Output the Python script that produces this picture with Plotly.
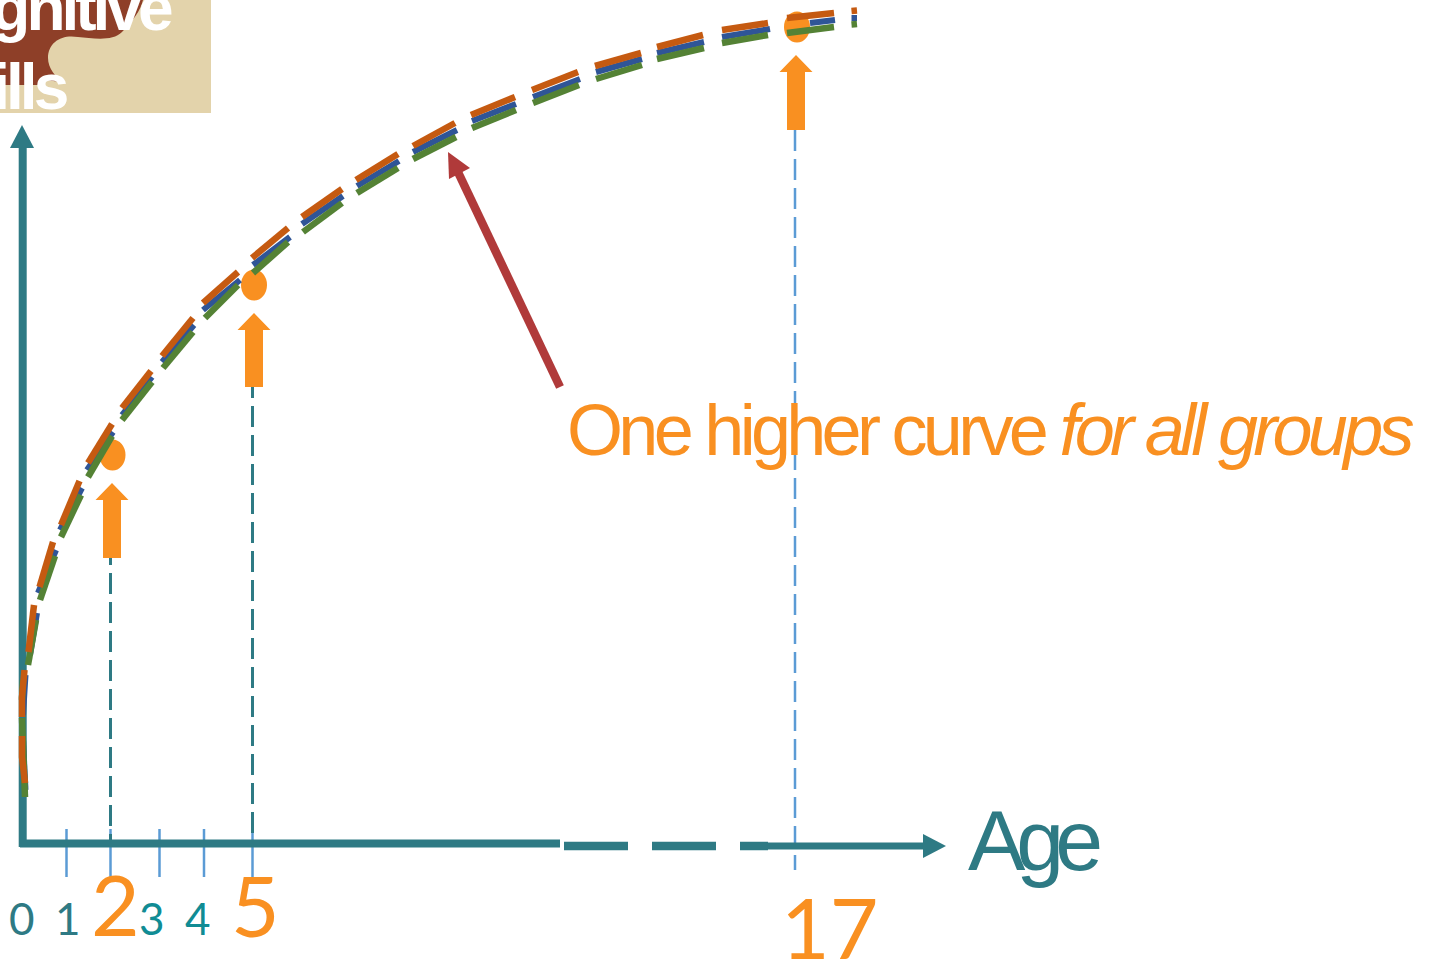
import plotly.graph_objects as go

# Axes are read straight in picture units (left to right, top to bottom)
WIDTH, HEIGHT = 1432, 960

TEAL = "#2E7A84"
TEAL2 = "#108C94"
LIGHT = "#5B9BD5"
ACCENT = "#F99021"
RED = "#B03A3A"

orange_x = [25,22,22,None,22,22,24.5,None,28.5,30.5,34,None,39.5,53,None,61,79.5,None,88,112,None,122,151,None,162,193,None,203,238,None,252,288,None,302,342,None,356,398,None,413,455,None,471,515,None,532,578,None,595,641,None,657,703,None,722,768,None,787,834,None,851.5,857]
orange_y = [783,757,736,None,717,697,670,None,652,638,605,None,587,542,None,525,481,None,463,424,None,408,371,None,356,318,None,303,272,None,258,228,None,217,189,None,180,154,None,146,123,None,115,97,None,90,72,None,66,53,None,47,35,None,30,23,None,18,13,None,11,10.5]

blue_x = [25.5,23,None,23,25.5,None,30,37,None,38,56,None,60,82,None,87,113,None,122,152,None,162,194,None,203,240,None,253,290,None,302,343,None,357,399,None,413,457,None,472,516,None,533,580,None,596,642,None,657,704,None,722,770,None,810,835,None,851.5,857]
blue_y = [790,740,None,715,675,None,655,613,None,593,550,None,530,488,None,470,432,None,415,377,None,362,325,None,310,280,None,265,237,None,224,196,None,186,161,None,152,130,None,121,104,None,97,79,None,72,59,None,53,42,None,37,29,None,23,20,None,18,18]

green_x = [25,23,22,None,22,23,None,28,31,36,None,40,55,None,61,81,None,88,112,None,122,152,None,163,193,None,205,238,None,253,288,None,303,342,None,357,398,None,413,456,None,472,516,None,533,579,None,596,642,None,657,704,None,722,768,None,787,834,None,851.5,857]
green_y = [797,760,718,None,700,680,None,665,645,620,None,600,556,None,537,495,None,477,436,None,420,382,None,368,332,None,318,285,None,273,242,None,232,203,None,193,168,None,159,137,None,128,110,None,103,85,None,79,65,None,59,48,None,43,35,None,33,27,None,24.5,24]

age_labels = ["0", "1", "2", "3", "4", "5", "17"]
age_label_x = [22, 68, 115, 152, 198, 255, 829]
age_label_y = [918, 918, 903, 918, 918, 904, 926]
age_label_size = [44, 44, 84, 44, 44, 84, 84]
age_label_color = [TEAL, TEAL, ACCENT, TEAL2, TEAL2, ACCENT, ACCENT]

tick_x = [66.5, 110.5, 159.5, 204, 252.5]
tick_top = 829
tick_bottom = 877

marker_x = [112.5, 254, 797]
marker_y = [455, 285, 27]
arrow_x = [112, 254, 796]
arrow_tail = [558, 387, 130]
arrow_tip = [483, 313, 55]

guide_dark_x = [110.5, 252.5]
guide_dark_top = [486, 319]
guide_bottom = 845
guide_light_x = 795
guide_light_top = 130
guide_light_bottom = 870

fig = go.Figure()


def line(x, y, color, width, dash=None):
    fig.add_trace(go.Scatter(x=x, y=y, mode="lines", hoverinfo="skip", connectgaps=False,
                             line=dict(color=color, width=width, dash=dash)))


def polygon(x, y, color):
    fig.add_trace(go.Scatter(x=x, y=y, mode="lines", fill="toself", fillcolor=color,
                             hoverinfo="skip", line=dict(color=color, width=0)))


for tx in tick_x:
    line([tx, tx], [tick_top, tick_bottom], LIGHT, 2.5)
line([guide_light_x, guide_light_x], [guide_light_top, guide_light_bottom], LIGHT, 2.5, "21px,8px")
for gx, gt in zip(guide_dark_x, guide_dark_top):
    line([gx, gx], [gt, guide_bottom], TEAL, 3, "21px,8px")

# Axes
line([22.7, 22.7], [847, 146], TEAL, 8)
polygon([10, 22, 34], [148, 125, 148], TEAL)
line([20, 560], [843.5, 843.5], TEAL, 8)
line([564, 628, None, 652, 716, None, 740, 768], [846, 846, None, 846, 846, None, 846, 846], TEAL, 8.5)
line([768, 925], [846, 846], TEAL, 7)
polygon([923, 946, 923], [834, 846, 858], TEAL)

# Curves
line(blue_x, blue_y, "#2F5597", 6)
line(green_x, green_y, "#548235", 6.5)
line(orange_x, orange_y, "#C55A11", 6.5)

# Block arrows
for cx, tail, tip in zip(arrow_x, arrow_tail, arrow_tip):
    polygon([cx - 9, cx - 9, cx - 16.5, cx, cx + 16.5, cx + 9, cx + 9],
            [tail, tip + 17, tip + 17, tip, tip + 17, tip + 17, tail], ACCENT)

# Callout arrow
line([560, 457], [387, 170], RED, 8.5)
polygon([448, 449, 470], [152, 179, 168], RED)

annotations = []


def text(x, y, s, size, color, anchor="center", family="Liberation Sans"):
    annotations.append(dict(x=x, y=y, text=s, xanchor=anchor, yanchor="middle", showarrow=False,
                            font=dict(family=family, size=size, color=color)))


for lab, lx, ly, ls, lc in zip(age_labels, age_label_x, age_label_y, age_label_size, age_label_color):
    text(lx, ly, lab, ls, lc, family="Lato")

text(1102, 840, '<span style="letter-spacing:-9px">Age</span>', 86, TEAL, anchor="right")
text(1416, 430, '<span style="letter-spacing:-4.7px">One higher curve <i>for all groups</i></span>', 72, ACCENT, anchor="right")
text(174, 8, '<b><span style="letter-spacing:-4px">Cognitive</span></b>', 64, "white", anchor="right")
text(69, 87, '<b><span style="letter-spacing:-4px">Skills</span></b>', 64, "white", anchor="right")

shapes = [
    dict(type="rect", xref="x", yref="y", x0=0, x1=211, y0=0, y1=113, layer="below",
         fillcolor="#E3D3AB", line=dict(width=0)),
    dict(type="path", xref="x", yref="y", layer="below", fillcolor="#8E3F28", line=dict(width=0),
         path="M0,0 L143,0 C141,10 132,22 122,32 C112,42 92,38 78,37 C62,34 48,42 48,58 "
              "C48,68 56,78 63,82 L66,83 L47,80 L40,85 L0,85 Z"),
]
for mx, my in zip(marker_x, marker_y):
    shapes.append(dict(type="circle", xref="x", yref="y", layer="below", fillcolor=ACCENT,
                       line=dict(width=0), x0=mx - 13, x1=mx + 13, y0=my - 15.5, y1=my + 15.5))

fig.update_layout(
    width=WIDTH, height=HEIGHT, autosize=False,
    margin=dict(l=0, r=0, t=0, b=0, pad=0),
    paper_bgcolor="white", plot_bgcolor="white", showlegend=False,
    xaxis=dict(range=[0, WIDTH], visible=False, fixedrange=True),
    yaxis=dict(range=[HEIGHT, 0], visible=False, fixedrange=True),
    annotations=annotations, shapes=shapes,
)
fig.write_html("out.html", config=dict(displayModeBar=False),
               post_script="document.body.style.margin='0';document.body.style.overflow='hidden';")
